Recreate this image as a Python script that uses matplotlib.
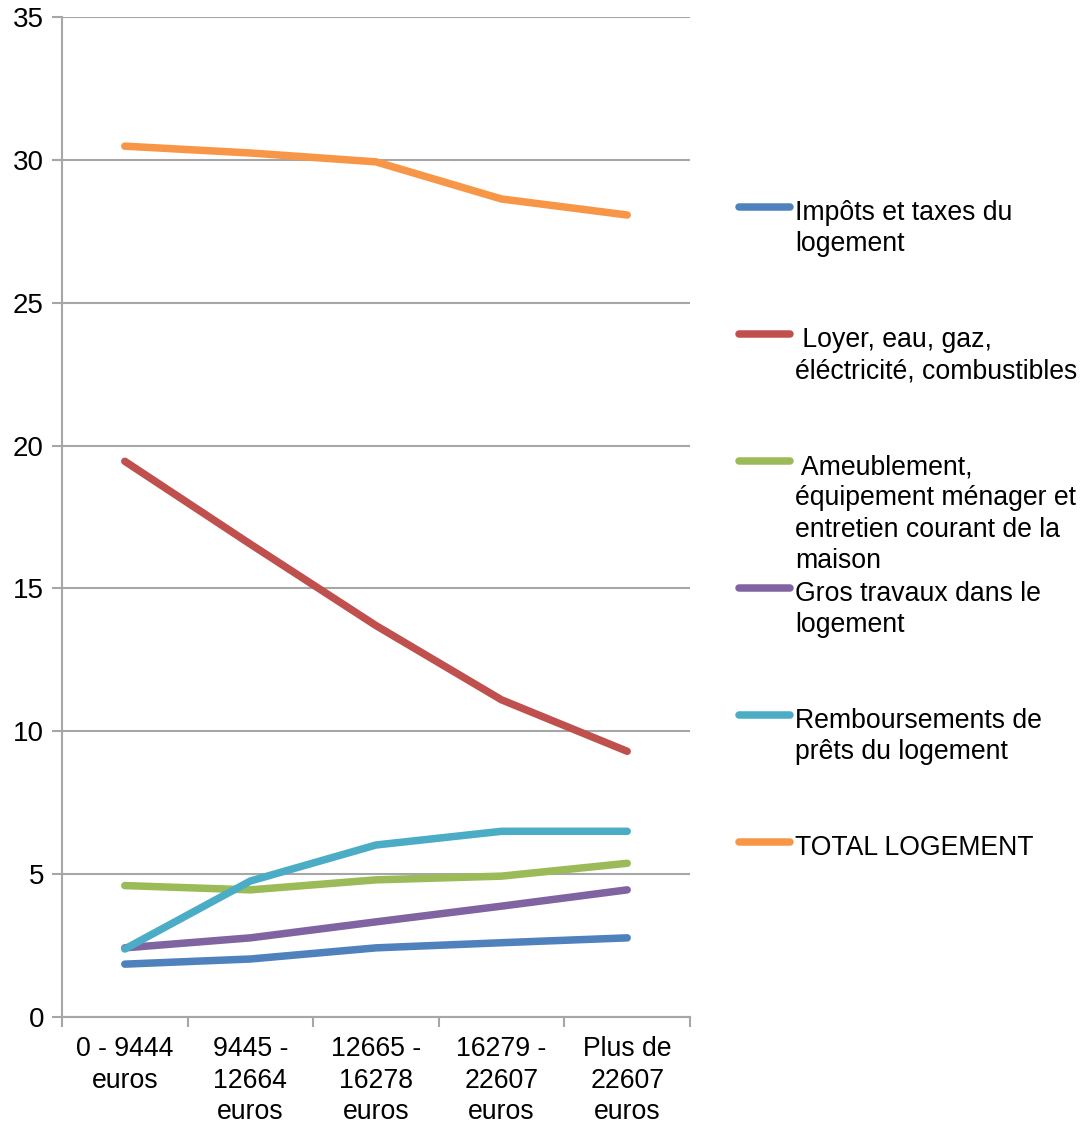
import matplotlib.pyplot as plt
from matplotlib.lines import Line2D

plt.rcParams['font.family'] = ['Liberation Sans', 'DejaVu Sans']

# income brackets
categories = ["0 - 9444\neuros", "9445 -\n12664\neuros", "12665 -\n16278\neuros",
              "16279 -\n22607\neuros", "Plus de\n22607\neuros"]

# shares of spending
impots = [1.85, 2.03, 2.42, 2.6, 2.77]
loyer = [19.45, 16.55, 13.7, 11.1, 9.3]
ameublement = [4.6, 4.45, 4.8, 4.93, 5.38]
gros_travaux = [2.42, 2.77, 3.33, 3.88, 4.45]
remboursements = [2.38, 4.76, 6.02, 6.5, 6.5]
total = [30.48, 30.24, 29.93, 28.63, 28.07]

labels = ["Impôts et taxes du\nlogement",
          " Loyer, eau, gaz,\néléctricité, combustibles",
          " Ameublement,\néquipement ménager et\nentretien courant de la\nmaison",
          "Gros travaux dans le\nlogement",
          "Remboursements de\nprêts du logement",
          "TOTAL LOGEMENT"]
colors = ["#4F81BD", "#C0504D", "#9BBB59", "#8064A2", "#4BACC6", "#F79646"]
series = [impots, loyer, ameublement, gros_travaux, remboursements, total]

W, H = 1092, 1124
FS = 19.2
fig = plt.figure(figsize=(W / 100, H / 100), dpi=100)
ax = fig.add_axes([62 / W, (H - 1017) / H, (690 - 62) / W, 1000 / H])

x = [i + 0.5 for i in range(len(categories))]
for vals, c in zip(series, colors):
    ax.plot(x, vals, color=c, lw=5.4, solid_capstyle='round', solid_joinstyle='round', zorder=3)

ax.set_xlim(0, 5)
ax.set_ylim(0, 35)
ax.set_yticks(range(0, 36, 5))
ax.yaxis.grid(True, color='#A6A6A6', lw=1.5)
ax.set_axisbelow(True)

# boundaries as ticks, labels centred between them
ax.set_xticks(range(6))
ax.set_xticklabels([])
ax.set_xticks(x, minor=True)
ax.set_xticklabels(categories, minor=True, fontsize=FS, linespacing=1.27)
ax.tick_params(axis='x', which='minor', length=0, pad=14)
ax.tick_params(axis='x', which='major', length=7, width=1.5, color='#A6A6A6', direction='out')
ax.tick_params(axis='y', length=7, width=1.5, color='#A6A6A6', labelsize=20, pad=6)

for s in ['top', 'right']:
    ax.spines[s].set_visible(False)
for s in ['left', 'bottom']:
    ax.spines[s].set_color('#A6A6A6')
    ax.spines[s].set_linewidth(1.5)

# legend drawn by hand to keep the spacing of the original
for i, (lab, c) in enumerate(zip(labels, colors)):
    yl = 207 + i * 127
    fig.add_artist(Line2D([739 / W, 790 / W], [(H - yl) / H] * 2, color=c, lw=5.4,
                          solid_capstyle='round'))
    fig.text(795 / W, (H - yl + 7) / H, lab, fontsize=FS, va='top', ha='left',
             linespacing=1.27)

fig.savefig("out.png", dpi=100)
